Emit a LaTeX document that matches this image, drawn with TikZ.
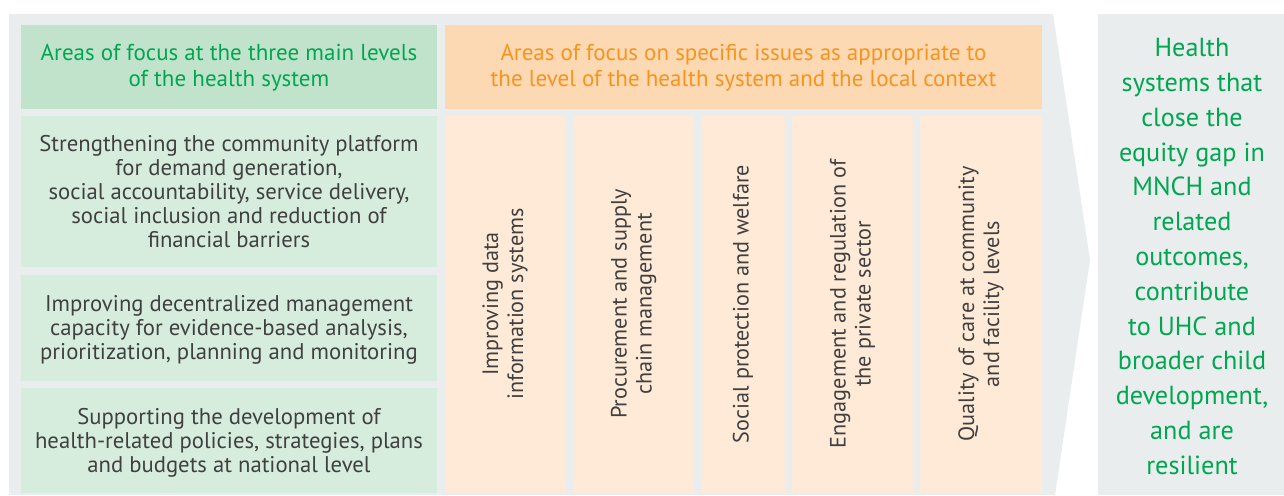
\documentclass[tikz,border=0pt]{standalone}
\usepackage{fontspec}
\setmainfont{PT Sans}
\definecolor{bggray}{HTML}{E9EDED}
\definecolor{gheadfill}{HTML}{C1E2CB}
\definecolor{growfill}{HTML}{D6EDDD}
\definecolor{oheadfill}{HTML}{FDD9B3}
\definecolor{ocolfill}{HTML}{FEEAD6}
\definecolor{gtext}{HTML}{00A651}
\definecolor{otext}{HTML}{F7941D}
\definecolor{btext}{HTML}{404040}
\begin{document}
\begin{tikzpicture}[x=1pt,y=-1pt,
  headtxt/.style={align=center, font=\fontsize{23}{26}\selectfont},
  bodytxt/.style={align=center, text=btext, font=\fontsize{22.7}{24}\selectfont},
  vtxt/.style={align=center, text=btext, rotate=90, font=\fontsize{22.2}{25}\selectfont},
  outtxt/.style={align=center, text=gtext, font=\fontsize{26.2}{34.8}\selectfont}]
\useasboundingbox (0,0) rectangle (1284,495);
% background arrow and outcome panel
\fill[bggray] (9,14) -- (1053,14) -- (1090,260) -- (1055,495) -- (9,495) -- cycle;
\fill[bggray] (1098,14) rectangle (1284,495);
% headers
\fill[gheadfill] (21,25) rectangle (437,109);
\fill[oheadfill] (445,25) rectangle (1042,109);
\node[headtxt, text=gtext] (gh) at (229,68) {Areas of focus at the three main levels\\of the health system};
\node[headtxt, text=otext] (oh) at (743.5,68) {Areas of focus on specific issues as appropriate to\\the level of the health system and the local context};
% green rows
\fill[growfill] (21,116) rectangle (437,267);
\fill[growfill] (21,275) rectangle (437,381);
\fill[growfill] (21,388) rectangle (437,493);
\node[bodytxt] (r1) at (229,191.5) {Strengthening the community platform\\for demand generation,\\social accountability, service delivery,\\social inclusion and reduction of\\financial barriers};
\node[bodytxt] (r2) at (229,330) {Improving decentralized management\\capacity for evidence-based analysis,\\prioritization, planning and monitoring};
\node[bodytxt] (r3) at (229,443) {Supporting the development of\\health-related policies, strategies, plans\\and budgets at national level};
% orange columns
\fill[ocolfill] (445,116) rectangle (565,493);
\fill[ocolfill] (573,116) rectangle (694,493);
\fill[ocolfill] (701,116) rectangle (785,493);
\fill[ocolfill] (792,116) rectangle (913,493);
\fill[ocolfill] (920,116) rectangle (1042,493);
\node[vtxt] (c1) at (505,304) {Improving data\\information systems};
\node[vtxt] (c2) at (633.5,304) {Procurement and supply\\chain management};
\node[vtxt] (c3) at (743,304) {Social protection and welfare};
\node[vtxt] (c4) at (852.5,304) {Engagement and regulation of\\the private sector};
\node[vtxt] (c5) at (981,304) {Quality of care at community\\and facility levels};
% outcome
\node[outtxt] (out) at (1192,256.5) {Health\\systems that\\close the\\equity gap in\\MNCH and\\related\\outcomes,\\contribute\\to UHC and\\broader child\\development,\\and are\\resilient};
\end{tikzpicture}
\end{document}
